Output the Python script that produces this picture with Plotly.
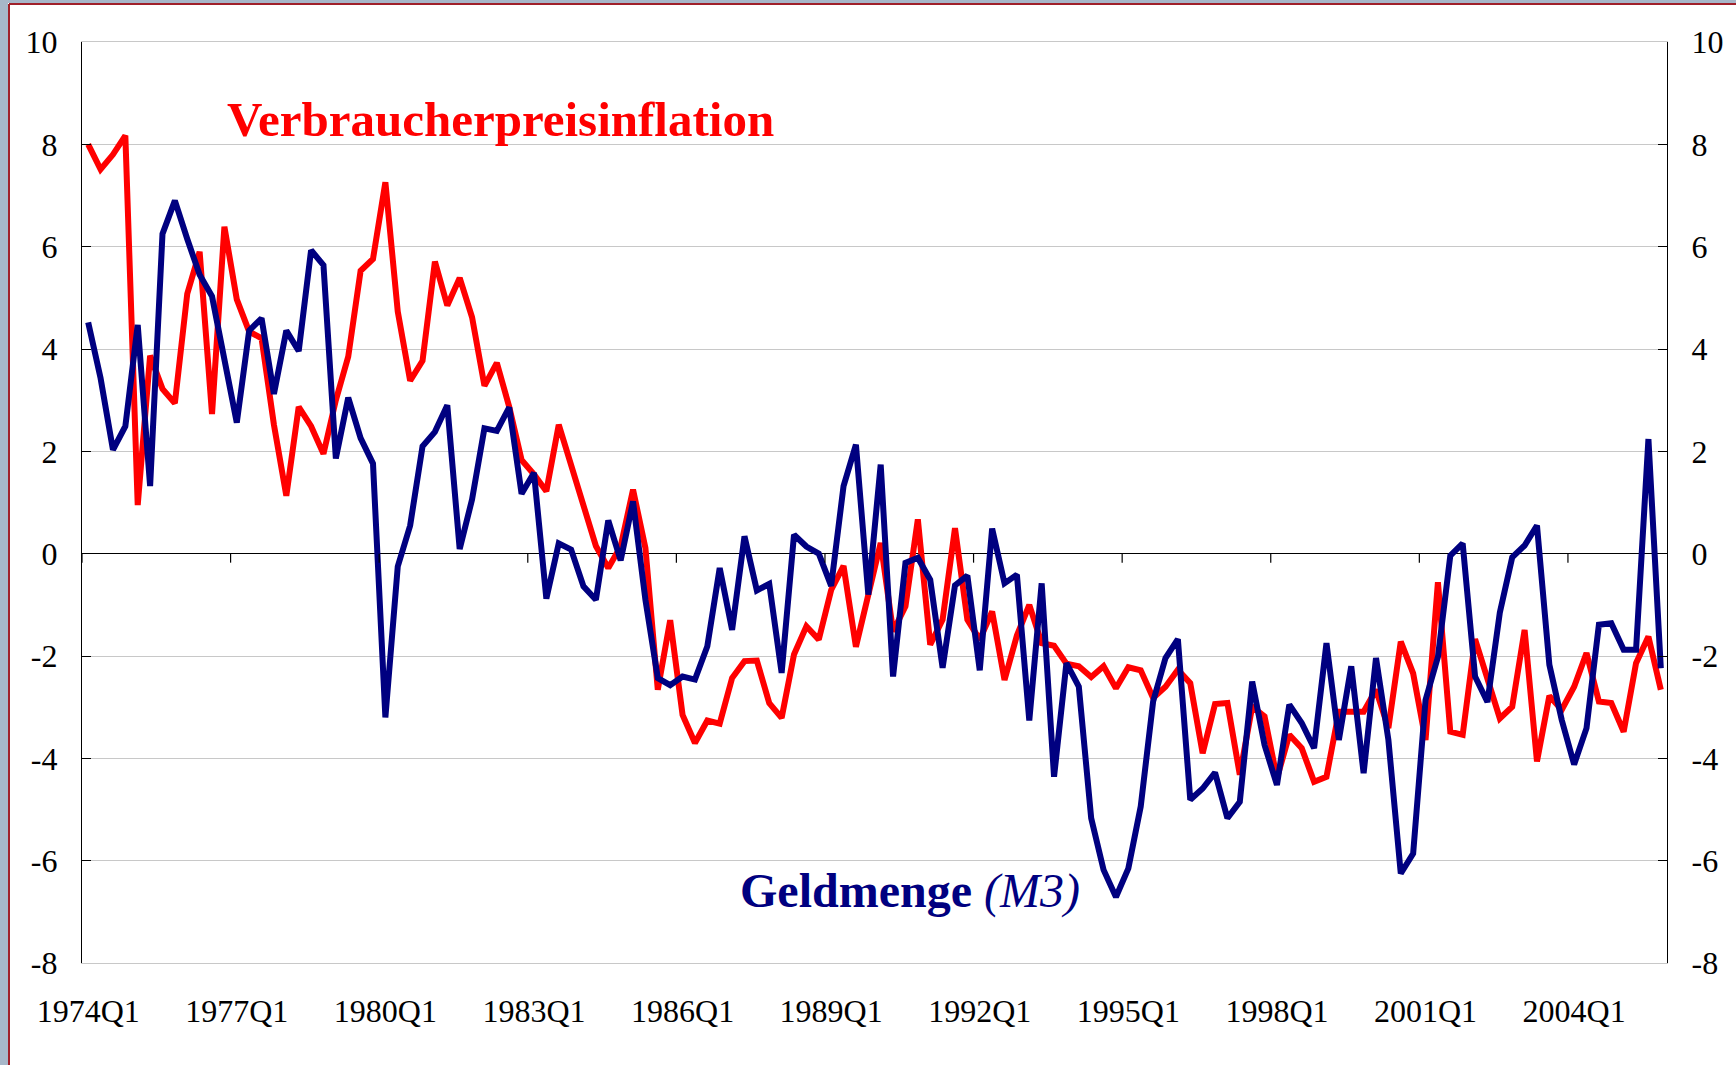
import plotly.graph_objects as go

# ---------------- data ----------------
start_year = 1974
n_quarters = 128
quarters = [f"{start_year + i // 4}Q{i % 4 + 1}" for i in range(n_quarters)]

inflation = [
    8.0, 7.51, 7.8, 8.17, 0.95, 3.87, 3.22, 2.94, 5.08, 5.9,
    2.73, 6.39, 4.97, 4.34, 4.21, 2.52, 1.13, 2.87, 2.49, 1.95,
    3.0, 3.85, 5.53, 5.76, 7.26, 4.73, 3.38, 3.77, 5.71, 4.85,
    5.39, 4.62, 3.28, 3.73, 2.87, 1.83, 1.55, 1.22, 2.52, 1.76,
    0.95, 0.15, -0.28, 0.14, 1.25, 0.11, -2.66, -1.3, -3.15, -3.7,
    -3.26, -3.32, -2.43, -2.1, -2.09, -2.92, -3.21, -1.97, -1.42, -1.68,
    -0.71, -0.24, -1.82, -0.8, 0.21, -1.52, -1.03, 0.67, -1.78, -1.29,
    0.5, -1.29, -1.68, -1.13, -2.47, -1.6, -1.0, -1.75, -1.8, -2.15,
    -2.2, -2.41, -2.2, -2.63, -2.22, -2.28, -2.82, -2.6, -2.27, -2.53,
    -3.9, -2.94, -2.92, -4.32, -2.99, -3.18, -4.39, -3.54, -3.8, -4.46,
    -4.36, -3.09, -3.09, -3.09, -2.66, -3.41, -1.72, -2.34, -3.64, -0.56,
    -3.48, -3.54, -1.67, -2.4, -3.22, -2.99, -1.49, -4.06, -2.78, -3.05,
    -2.6, -1.94, -2.89, -2.92, -3.48, -2.14, -1.62, -2.66,
]

money_m3 = [
    4.52, 3.43, 2.03, 2.49, 4.47, 1.32, 6.25, 6.9, 6.15, 5.45,
    5.03, 3.77, 2.56, 4.36, 4.6, 3.12, 4.36, 3.96, 5.93, 5.64,
    1.86, 3.05, 2.26, 1.76, -3.2, -0.25, 0.55, 2.1, 2.38, 2.9,
    0.09, 1.06, 2.45, 2.4, 2.86, 1.17, 1.58, -0.88, 0.2, 0.08,
    -0.64, -0.9, 0.65, -0.13, 1.02, -0.9, -2.43, -2.57, -2.4, -2.46,
    -1.81, -0.28, -1.49, 0.34, -0.72, -0.59, -2.33, 0.37, 0.14, 0.0,
    -0.63, 1.32, 2.13, -0.8, 1.74, -2.4, -0.18, -0.08, -0.51, -2.23,
    -0.62, -0.43, -2.28, 0.49, -0.58, -0.41, -3.26, -0.58, -4.36, -2.14,
    -2.6, -5.17, -6.18, -6.71, -6.15, -4.94, -2.89, -2.04, -1.67, -4.81,
    -4.59, -4.28, -5.17, -4.85, -2.5, -3.74, -4.52, -2.95, -3.31, -3.8,
    -1.75, -3.64, -2.2, -4.29, -2.04, -3.64, -6.25, -5.86, -2.86, -2.02,
    -0.04, 0.2, -2.4, -2.9, -1.15, -0.07, 0.16, 0.55, -2.17, -3.25,
    -4.12, -3.41, -1.39, -1.36, -1.88, -1.88, 2.24, -2.24,
]

tick_labels = ["1974Q1", "1977Q1", "1980Q1", "1983Q1", "1986Q1", "1989Q1",
               "1992Q1", "1995Q1", "1998Q1", "2001Q1", "2004Q1"]
y_ticks = [10, 8, 6, 4, 2, 0, -2, -4, -6, -8]

# ---------------- layout constants ----------------
W, H = 1736, 1065
ML, MR, MT, MB = 82, 69, 42, 102
PW = W - ML - MR
PH = H - MT - MB

RED = "#FF0000"
NAVY = "#000080"
GRID = "#C8C8C8"
FONT = "Liberation Serif"

fig = go.Figure()
fig.add_trace(go.Scatter(x=quarters, y=inflation, mode="lines",
                         line=dict(color=RED, width=6), name="Verbraucherpreisinflation",
                         yaxis="y"))
fig.add_trace(go.Scatter(x=quarters, y=money_m3, mode="lines",
                         line=dict(color=NAVY, width=6), name="Geldmenge (M3)",
                         yaxis="y2"))

yax_common = dict(
    range=[-8, 10], tickvals=y_ticks, ticktext=[str(v) for v in y_ticks],
    ticks="inside", ticklen=9, tickcolor="black", tickwidth=1.2,
    showline=True, linecolor="black", linewidth=1.2,
    tickfont=dict(family=FONT, size=32, color="black"),
    ticklabelstandoff=17,
)

fig.update_layout(
    width=W, height=H,
    margin=dict(l=ML, r=MR, t=MT, b=MB, pad=0),
    paper_bgcolor="white", plot_bgcolor="white",
    showlegend=False,
    xaxis=dict(
        type="category", categoryorder="array", categoryarray=quarters,
        range=[-0.5, n_quarters - 0.5],
        tickvals=tick_labels, ticktext=tick_labels,
        ticks="", showgrid=False, zeroline=False,
        showline=True, linecolor=GRID, linewidth=1, mirror=True,
        tickfont=dict(family=FONT, size=32, color="black"),
        ticklabelstandoff=20,
    ),
    yaxis=dict(**yax_common, side="left", showgrid=True, gridcolor=GRID,
               gridwidth=1, zeroline=True, zerolinecolor="black", zerolinewidth=1.2),
    yaxis2=dict(**yax_common, side="right", overlaying="y", showgrid=False,
                zeroline=False),
)

shapes = []
# x-axis tick marks on the zero line, at category boundaries
for lab in tick_labels:
    k = quarters.index(lab)
    shapes.append(dict(type="line", xref="x", yref="y", x0=k - 0.5, x1=k - 0.5,
                       ysizemode="pixel", yanchor=0, y0=0, y1=-9,
                       line=dict(color="black", width=1.2)))

# slide frame (grey-blue strips and dark red border)
def px_x(p):
    return (p - ML) / PW

def px_y(p):
    return (H - MB - p) / PH

shapes.append(dict(type="rect", xref="paper", yref="paper", layer="below",
                   x0=px_x(0), x1=px_x(8), y0=px_y(H), y1=px_y(0),
                   fillcolor="#A7B7C9", line=dict(width=0)))
shapes.append(dict(type="rect", xref="paper", yref="paper", layer="below",
                   x0=px_x(0), x1=px_x(W), y0=px_y(3), y1=px_y(0),
                   fillcolor="#A7B7C9", line=dict(width=0)))
shapes.append(dict(type="line", xref="paper", yref="paper",
                   x0=px_x(9), x1=px_x(9), y0=px_y(H), y1=px_y(4),
                   line=dict(color="#A0202A", width=2)))
shapes.append(dict(type="line", xref="paper", yref="paper",
                   x0=px_x(9), x1=px_x(W), y0=px_y(4), y1=px_y(4),
                   line=dict(color="#A0202A", width=2)))
fig.update_layout(shapes=shapes)

fig.add_annotation(text="<b>Verbraucherpreisinflation</b>", xref="paper", yref="y",
                   x=px_x(225), y=8.48, xanchor="left", yanchor="middle",
                   showarrow=False, font=dict(family=FONT, size=49, color=RED))
fig.add_annotation(text="<b>Geldmenge</b> <i>(M3)</i>", xref="paper", yref="y",
                   x=px_x(738), y=-6.59, xanchor="left", yanchor="middle",
                   showarrow=False, font=dict(family=FONT, size=48, color=NAVY))

fig.write_html("out.html",
               config={"displayModeBar": False},
               post_script="document.body.style.margin='0';document.body.style.overflow='hidden';")
